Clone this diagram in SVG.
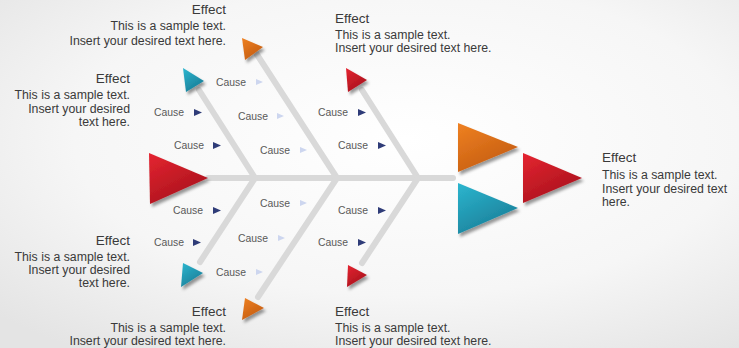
<svg xmlns="http://www.w3.org/2000/svg" width="739" height="348" viewBox="0 0 739 348">
<defs>
<radialGradient id="bg" cx="0.55" cy="0.4" r="0.75">
<stop offset="0" stop-color="#ffffff"/>
<stop offset="0.6" stop-color="#f6f6f6"/>
<stop offset="1" stop-color="#e4e4e4"/>
</radialGradient>
<linearGradient id="gRed" x1="0" y1="0" x2="0.6" y2="1">
<stop offset="0" stop-color="#e52531"/>
<stop offset="1" stop-color="#a8121c"/>
</linearGradient>
<linearGradient id="gOrange" x1="0" y1="0" x2="0.6" y2="1">
<stop offset="0" stop-color="#ef8122"/>
<stop offset="1" stop-color="#c45c11"/>
</linearGradient>
<linearGradient id="gTeal" x1="0" y1="0" x2="0.6" y2="1">
<stop offset="0" stop-color="#2cb6cf"/>
<stop offset="1" stop-color="#1a7e98"/>
</linearGradient>
<filter id="sh" x="-30%" y="-30%" width="170%" height="170%">
<feDropShadow dx="2" dy="3" stdDeviation="1.6" flood-color="#000" flood-opacity="0.4"/>
</filter>
</defs>
<style>
.bone{stroke:#d9d9d9;stroke-width:6;stroke-linecap:round;fill:none}
.h{font-family:"Liberation Sans",Arial,sans-serif;font-size:13.5px;fill:#3a3a3a}
.t{font-family:"Liberation Sans",Arial,sans-serif;font-size:12.3px;fill:#3a3a3a}
.c{font-family:"Liberation Sans",Arial,sans-serif;font-size:10.4px;fill:#595959}
.dk{fill:#2f3c78}
.lt{fill:#cdd6ef}
.r{text-anchor:end}
</style>
<rect width="739" height="348" fill="url(#bg)"/>

<g id="connectors">
<line class="bone" x1="208" y1="178" x2="453" y2="178"/>
<line class="bone" x1="255" y1="178" x2="199" y2="90"/>
<line class="bone" x1="337" y1="178" x2="254" y2="50"/>
<line class="bone" x1="418" y1="178" x2="362" y2="90"/>
<line class="bone" x1="255" y1="178" x2="200" y2="262"/>
<line class="bone" x1="337" y1="178" x2="258" y2="297"/>
<line class="bone" x1="418" y1="178" x2="362" y2="263"/>
</g>

<g id="head-left">
<polygon points="149,153 208,178 150,204" fill="url(#gRed)" filter="url(#sh)"/>
</g>

<g id="effect-top-left">
<polygon points="242,38 263,47 245,60" fill="url(#gOrange)" filter="url(#sh)"/>
<text class="h r" x="226" y="13.5">Effect</text>
<text class="t r" x="226" y="29.5">This is a sample text.</text>
<text class="t r" x="226" y="44.5">Insert your desired text here.</text>
</g>

<g id="effect-upper-left">
<polygon points="183,68 204,81 186,92" fill="url(#gTeal)" filter="url(#sh)"/>
<text class="h r" x="130" y="82.5">Effect</text>
<text class="t r" x="130" y="99">This is a sample text.</text>
<text class="t r" x="130" y="112.5">Insert your desired</text>
<text class="t r" x="130" y="125.5">text here.</text>
</g>

<g id="effect-top-center">
<polygon points="346,68 367,80 348,92" fill="url(#gRed)" filter="url(#sh)"/>
<text class="h" x="335" y="22.5">Effect</text>
<text class="t" x="335" y="38.5">This is a sample text.</text>
<text class="t" x="335" y="51.5">Insert your desired text here.</text>
</g>

<g id="effect-lower-left">
<polygon points="183,263 203,273 181,287" fill="url(#gTeal)" filter="url(#sh)"/>
<text class="h r" x="130" y="244.5">Effect</text>
<text class="t r" x="130" y="260.5">This is a sample text.</text>
<text class="t r" x="130" y="273.5">Insert your desired</text>
<text class="t r" x="130" y="286.5">text here.</text>
</g>

<g id="effect-bottom-left">
<polygon points="245,298 264,308 242,320" fill="url(#gOrange)" filter="url(#sh)"/>
<text class="h r" x="226" y="315.5">Effect</text>
<text class="t r" x="226" y="331.5">This is a sample text.</text>
<text class="t r" x="226" y="344.5">Insert your desired text here.</text>
</g>

<g id="effect-bottom-center">
<polygon points="348,265 367,275 347,287" fill="url(#gRed)" filter="url(#sh)"/>
<text class="h" x="335" y="315.5">Effect</text>
<text class="t" x="335" y="331.5">This is a sample text.</text>
<text class="t" x="335" y="344.5">Insert your desired text here.</text>
</g>

<g id="effect-right">
<polygon points="458,123 518,147 458,172" fill="url(#gOrange)" filter="url(#sh)"/>
<polygon points="458,183 518,208 458,234" fill="url(#gTeal)" filter="url(#sh)"/>
<polygon points="523,153 582,178 523,203" fill="url(#gRed)" filter="url(#sh)"/>
<text class="h" x="602" y="162">Effect</text>
<text class="t" x="602" y="178.5">This is a sample text.</text>
<text class="t" x="602" y="192.5">Insert your desired text</text>
<text class="t" x="602" y="205.5">here.</text>
</g>

<g id="cause-1"><text class="c" x="216" y="86">Cause</text><polygon class="lt" points="256,79 263,82 256,85"/></g>
<g id="cause-2"><text class="c" x="154" y="116">Cause</text><polygon class="dk" points="194,109 202,112.5 194,116"/></g>
<g id="cause-3"><text class="c" x="238" y="120">Cause</text><polygon class="lt" points="277,113 284,116 277,119"/></g>
<g id="cause-4"><text class="c" x="174" y="149">Cause</text><polygon class="dk" points="213,142 221,145.5 213,149"/></g>
<g id="cause-5"><text class="c" x="260" y="154">Cause</text><polygon class="lt" points="300,147 307,150 300,153"/></g>
<g id="cause-6"><text class="c" x="318" y="116">Cause</text><polygon class="dk" points="358,109 366,112.5 358,116"/></g>
<g id="cause-7"><text class="c" x="338" y="149">Cause</text><polygon class="dk" points="378,142 386,145.5 378,149"/></g>
<g id="cause-8"><text class="c" x="173" y="214">Cause</text><polygon class="dk" points="213,207 221,210.5 213,214"/></g>
<g id="cause-9"><text class="c" x="260" y="207">Cause</text><polygon class="lt" points="300,200 307,203 300,206"/></g>
<g id="cause-10"><text class="c" x="338" y="214">Cause</text><polygon class="dk" points="378,207 386,210.5 378,214"/></g>
<g id="cause-11"><text class="c" x="154" y="246">Cause</text><polygon class="dk" points="193,239 201,242.5 193,246"/></g>
<g id="cause-12"><text class="c" x="238" y="242">Cause</text><polygon class="lt" points="278,235 285,238 278,241"/></g>
<g id="cause-13"><text class="c" x="318" y="246">Cause</text><polygon class="dk" points="358,239 366,242.5 358,246"/></g>
<g id="cause-14"><text class="c" x="216" y="276">Cause</text><polygon class="lt" points="256,269 263,272 256,275"/></g>
</svg>
